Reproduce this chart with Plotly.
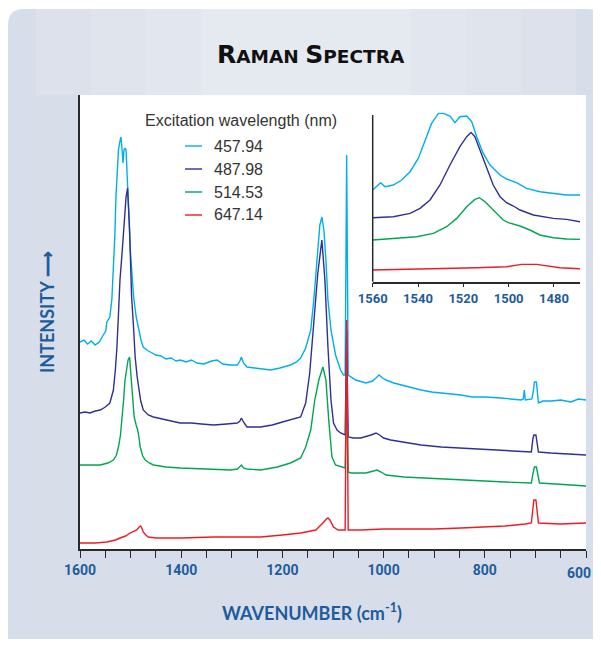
import plotly.graph_objects as go

# ---------------- data (intensity in arbitrary units) -------------
series_names = ["457.94", "487.98", "514.53", "647.14"]
series_colors = ["#00aeef", "#2e3192", "#00a651", "#ed1c24"]

wn_cyan = [1600, 1592, 1585, 1578, 1570, 1562, 1554, 1549, 1547, 1544, 1541, 1537, 1534, 1531, 1529,
           1526, 1524, 1521, 1519, 1517, 1515, 1513, 1511, 1509, 1506, 1503, 1501, 1497, 1494, 1489,
           1484, 1479, 1475, 1468, 1461, 1450, 1440, 1430, 1420, 1410, 1402, 1390, 1380, 1369, 1355,
           1340, 1329, 1318, 1303, 1289, 1284, 1281, 1277, 1270, 1255, 1240, 1223, 1205, 1184, 1172,
           1164, 1154, 1144, 1138, 1132, 1126, 1122, 1118, 1114, 1110, 1104, 1095, 1085, 1079, 1076,
           1073, 1070, 1062, 1055, 1035, 1022, 1015, 1009, 1002, 995, 980, 966, 945, 926, 905, 886,
           866, 847, 825, 800, 768, 745, 728, 724, 722, 720, 707, 704, 702, 698, 696, 694, 685, 668,
           650, 630, 615, 600]
int_cyan = [207, 209, 205, 208, 204, 207, 214, 218, 227, 229, 232, 250, 279, 315, 352,
            380, 399, 408, 412, 400, 386, 399, 401, 399, 369, 330, 302, 275, 252, 232,
            219, 208, 202, 199, 197, 194, 193, 190, 191, 188, 189, 187, 189, 186, 185,
            188, 189, 185, 184, 184, 188, 192, 186, 182, 181, 180, 179, 181, 184, 187,
            191, 201, 219, 249, 289, 324, 332, 319, 289, 249, 219, 194, 179, 174, 174,
            394, 174, 171, 169, 166, 168, 171, 174, 171, 169, 166, 164, 161, 159, 157, 156,
            155, 154, 152, 152, 151, 150, 149, 150, 159, 149, 150, 158, 167, 167, 155, 146, 148, 148,
            149, 147, 150, 149]

wn_blue = [1600, 1590, 1580, 1570, 1560, 1550, 1541, 1534, 1530, 1527, 1524, 1521, 1517, 1514, 1511,
           1509, 1506, 1504, 1502, 1500, 1498, 1494, 1491, 1487, 1484, 1480, 1475, 1465, 1455, 1440,
           1420, 1402, 1380, 1360, 1336, 1310, 1289, 1284, 1281, 1277, 1270, 1243, 1220, 1200, 1184,
           1164, 1154, 1146, 1138, 1130, 1122, 1116, 1110, 1104, 1099, 1092, 1085, 1076, 1073, 1070,
           1060, 1045, 1025, 1015, 1008, 1000, 986, 960, 926, 886, 850, 800, 768, 735, 708, 705, 703,
           699, 697, 694, 670, 640, 600]
int_blue = [136, 137, 136, 138, 139, 142, 146, 159, 180, 202, 235, 269, 295, 319, 338,
            352, 361, 345, 319, 285, 252, 220, 192, 172, 159, 148, 139, 134, 132, 130,
            128, 126, 126, 125, 124, 125, 126, 128, 131, 127, 122, 122, 124, 127, 129,
            132, 146, 176, 226, 276, 309, 269, 202, 149, 126, 119, 116, 114, 219, 112,
            111, 111, 114, 116, 114, 111, 109, 107, 104, 102, 101, 100, 99, 98, 97, 110, 114,
            114, 105, 97, 96, 95, 94]

wn_green = [1600, 1580, 1560, 1545, 1534, 1528, 1524, 1520, 1517, 1514, 1511, 1508, 1505, 1502, 1499,
            1496, 1493, 1489, 1486, 1483, 1481, 1476, 1471, 1463, 1455, 1430, 1402, 1350, 1303, 1289,
            1284, 1281, 1277, 1270, 1243, 1210, 1184, 1164, 1154, 1144, 1136, 1128, 1120, 1114, 1108,
            1102, 1095, 1085, 1076, 1073, 1070, 1065, 1035, 1020, 1013, 1005, 995, 960, 926, 890, 847,
            800, 760, 708, 705, 702, 698, 695, 692, 660, 630, 600]
int_green = [84, 84, 84, 86, 89, 94, 102, 114, 129, 148, 169, 181, 189, 192, 169,
             148, 132, 124, 119, 110, 102, 93, 89, 86, 84, 82, 81, 80, 79, 80,
             82, 84, 81, 80, 79, 82, 86, 91, 102, 119, 149, 169, 182, 169, 126,
             92, 84, 82, 81, 169, 77, 76, 76, 78, 79, 77, 74, 72, 71, 70, 69,
             68, 67, 66, 75, 82, 82, 72, 66, 65, 64, 63]

wn_red = [1600, 1570, 1547, 1530, 1521, 1510, 1501, 1494, 1488, 1483, 1480, 1477, 1475, 1470, 1465,
          1450, 1435, 1400, 1336, 1290, 1243, 1200, 1164, 1134, 1125, 1120, 1113, 1110, 1106, 1099,
          1090, 1085, 1076, 1073, 1070, 1045, 1000, 966, 900, 847, 800, 760, 720, 708, 705, 703,
          699, 697, 694, 650, 600]
int_red = [6, 6, 7, 9, 11, 13, 16, 18, 19, 22, 23, 20, 17, 14, 12,
           11, 11, 11, 12, 12, 12, 14, 16, 19, 23, 26, 30, 31, 29, 22,
           19, 19, 19, 229, 19, 19, 20, 20, 20, 21, 22, 23, 25, 26, 40, 49,
           49, 40, 26, 25, 26]

# inset (1560-1468 cm-1 detail)
wn_in_cyan = [1560, 1557.5, 1556.5, 1554.6, 1550.9, 1547.2, 1543.5, 1539.9, 1536.2, 1534, 1531, 1528.8,
              1525.9, 1523.7, 1521.5, 1518.5, 1516.3, 1514.1, 1511.2, 1508.2, 1503.8, 1500.9, 1496.5,
              1492.1, 1486.2, 1480.3, 1474.4, 1468.5]
int_in_cyan = [91.7, 96.7, 99, 95, 96.7, 101.7, 110, 123.3, 145, 158.3, 168.3, 168.3,
               165.7, 159, 165, 165.7, 160, 145, 128.3, 116.7, 106.7, 102.7, 99,
               93.3, 90, 88.3, 86.7, 86.7]
wn_in_blue = [1560, 1550.9, 1543.5, 1539.1, 1534.7, 1530.3, 1525.9, 1521.5, 1518.5, 1516.6, 1514.9,
              1512.6, 1509.7, 1506.8, 1503.8, 1500.9, 1497.9, 1495, 1489.1, 1480.3, 1474.4, 1468.5]
int_in_blue = [64, 65, 68.3, 73.3, 81.7, 96.7, 116.7, 135, 145, 149.3, 145,
               131.7, 115, 96.7, 85, 79, 75.7, 71.7, 66.7, 63.3, 62.3, 60]
wn_in_green = [1560, 1550.9, 1540.6, 1533.2, 1527.4, 1522.9, 1518.5, 1514.9, 1512.9, 1510.4, 1506.8,
               1502.4, 1500.1, 1495, 1490.6, 1486.2, 1480.3, 1474.4, 1468.5]
int_in_green = [41.7, 43.3, 45, 48.3, 55, 63.3, 75, 82.3, 84, 80, 71.7,
                61.7, 59, 55.7, 51.7, 46.7, 44, 42.7, 42.3]
wn_in_red = [1560, 1536.2, 1514.1, 1500.9, 1494.3, 1487.6, 1482.5, 1477.4, 1468.5]
int_in_red = [11.7, 12.7, 14, 15, 17.3, 17.3, 16, 14, 13]

main_ticks = [1600, 1400, 1200, 1000, 800]      # 600 label drawn as annotation (page edge)
inset_ticks = [1560, 1540, 1520, 1500, 1480]

# ---------------- geometry helpers (screen pixel layout -> paper) ----------------
OFF = 8                      # page body margin
W, H = 585, 631
L, R, T, B = 72, 7, 87, 90
PW, PH = W - L - R, H - T - B


def px(x):
    return (x - OFF - L) / PW


def py(y):
    return (H - B - (y - OFF)) / PH


BLUE_TXT = "#1d5c9c"
AXIS = "#2a2a2a"
TICKFONT = dict(family="Liberation Sans Narrow, Roboto, Liberation Sans, Arial", size=14,
                color=BLUE_TXT, weight="bold")

fig = go.Figure()
main_x = [wn_cyan, wn_blue, wn_green, wn_red]
main_y = [int_cyan, int_blue, int_green, int_red]
for name, col, xs, ys in zip(series_names, series_colors, main_x, main_y):
    fig.add_trace(go.Scatter(x=xs, y=ys, mode="lines", name=name,
                             line=dict(color=col, width=1.4), showlegend=False,
                             xaxis="x", yaxis="y"))

in_x = [wn_in_cyan, wn_in_blue, wn_in_green, wn_in_red]
in_y = [int_in_cyan, int_in_blue, int_in_green, int_in_red]
for name, col, xs, ys in zip(series_names, series_colors, in_x, in_y):
    fig.add_trace(go.Scatter(x=xs, y=ys, mode="lines", name=name,
                             line=dict(color=col, width=1.4), showlegend=False,
                             xaxis="x2", yaxis="y2"))

# ---------------- background panel ----------------
def rounded_rect(x0, y0, x1, y1, r):
    pts = [
        f"M{px(x0 + r)},{py(y0)}",
        f"L{px(x1 - r)},{py(y0)}",
        f"Q{px(x1)},{py(y0)} {px(x1)},{py(y0 + r)}",
        f"L{px(x1)},{py(y1 - r)}",
        f"Q{px(x1)},{py(y1)} {px(x1 - r)},{py(y1)}",
        f"L{px(x0 + r)},{py(y1)}",
        f"Q{px(x0)},{py(y1)} {px(x0)},{py(y1 - r)}",
        f"L{px(x0)},{py(y0 + r)}",
        f"Q{px(x0)},{py(y0)} {px(x0 + r)},{py(y0)}",
        "Z",
    ]
    return " ".join(pts)


shapes = [dict(type="path", xref="paper", yref="paper", layer="below",
               path=rounded_rect(8, 9, 603, 700, 16), fillcolor="#d8dee9", line=dict(width=0))]
for half in [270, 215, 160, 105]:
    shapes.append(dict(type="rect", xref="paper", yref="paper", layer="below",
                       x0=px(306 - half), x1=px(306 + half), y0=py(95), y1=py(9),
                       fillcolor="rgba(255,255,255,0.11)", line=dict(width=0)))
shapes.append(dict(type="rect", xref="paper", yref="paper", layer="below",
                   x0=0, x1=1, y0=0, y1=1, fillcolor="white", line=dict(width=0)))
# inset vertical axis line
shapes.append(dict(type="line", xref="paper", yref="paper",
                   x0=px(372.7), x1=px(372.7), y0=py(281.7), y1=py(115),
                   line=dict(color=AXIS, width=1.5)))

# legend sample lines
legend_y = [146, 169, 192, 215]
for col, ly in zip(series_colors, legend_y):
    shapes.append(dict(type="line", xref="paper", yref="paper",
                       x0=px(185), x1=px(202), y0=py(ly), y1=py(ly),
                       line=dict(color=col, width=1.4)))

annotations = [
    dict(text="<span style='font-size:25px'>R</span>AMAN <span style='font-size:25px'>S</span>PECTRA",
         x=px(311), y=py(54), xref="paper", yref="paper", showarrow=False,
         xanchor="center", yanchor="middle",
         font=dict(family="DejaVu Sans", size=18.5, color="#111111", weight="bold")),
    dict(text="WAVENUMBER (cm<sup>-1</sup>)", x=px(312), y=py(612), xref="paper", yref="paper",
         showarrow=False, xanchor="center", yanchor="middle",
         font=dict(family="Lato", size=18, color=BLUE_TXT, weight="bold")),
    dict(text="INTENSITY \u27f6", x=px(47), y=py(312), xref="paper", yref="paper",
         showarrow=False, textangle=-90, xanchor="center", yanchor="middle",
         font=dict(family="Lato", size=18, color=BLUE_TXT, weight="bold")),
    dict(text="Excitation wavelength (nm)", x=px(143), y=py(120), xref="paper", yref="paper",
         showarrow=False, xanchor="left", yanchor="middle",
         font=dict(family="Liberation Sans", size=16, color="#333333")),
    # last x tick label, kept inside the page
    dict(text="600", x=px(592.5), y=py(573), xref="paper", yref="paper",
         showarrow=False, xanchor="right", yanchor="middle", font=TICKFONT),
]
for name, ly in zip(series_names, legend_y):
    annotations.append(dict(text=name, x=px(212), y=py(ly), xref="paper", yref="paper",
                            showarrow=False, xanchor="left", yanchor="middle",
                            font=dict(family="Liberation Sans", size=16, color="#333333")))

fig.update_layout(
    width=W, height=H,
    margin=dict(l=L, r=R, t=T, b=B, pad=0),
    paper_bgcolor="white", plot_bgcolor="white",
    showlegend=False,
    shapes=shapes, annotations=annotations,
    xaxis=dict(domain=[0, 1], range=[1600, 600], showline=True, linecolor=AXIS, linewidth=1.5,
               ticks="outside", ticklen=7, tickwidth=1.3, tickcolor=AXIS,
               tickmode="array", tickvals=main_ticks, tickfont=TICKFONT,
               minor=dict(dtick=50, tick0=0, ticks="outside", ticklen=7, tickwidth=1.3,
                          tickcolor=AXIS, showgrid=False),
               showgrid=False, zeroline=False, anchor="y", fixedrange=True),
    yaxis=dict(domain=[0, 1], range=[0, 454], showline=True, linecolor=AXIS, linewidth=1.5,
               ticks="", showticklabels=False, showgrid=False, zeroline=False, anchor="x"),
    xaxis2=dict(domain=[px(372.7), px(580)], range=[1560, 1468.5], anchor="y2",
                showline=True, linecolor=AXIS, linewidth=1.5,
                ticks="outside", ticklen=4, tickwidth=1.3, tickcolor=AXIS,
                tickmode="array", tickvals=inset_ticks,
                tickfont=dict(family=TICKFONT["family"], size=13, color=BLUE_TXT, weight="bold"),
                showgrid=False, zeroline=False),
    yaxis2=dict(domain=[py(281.7), py(110)], range=[0, 171.7], anchor="x2",
                showline=False, ticks="", showticklabels=False, showgrid=False, zeroline=False),
)

fig.write_html("out.html")
